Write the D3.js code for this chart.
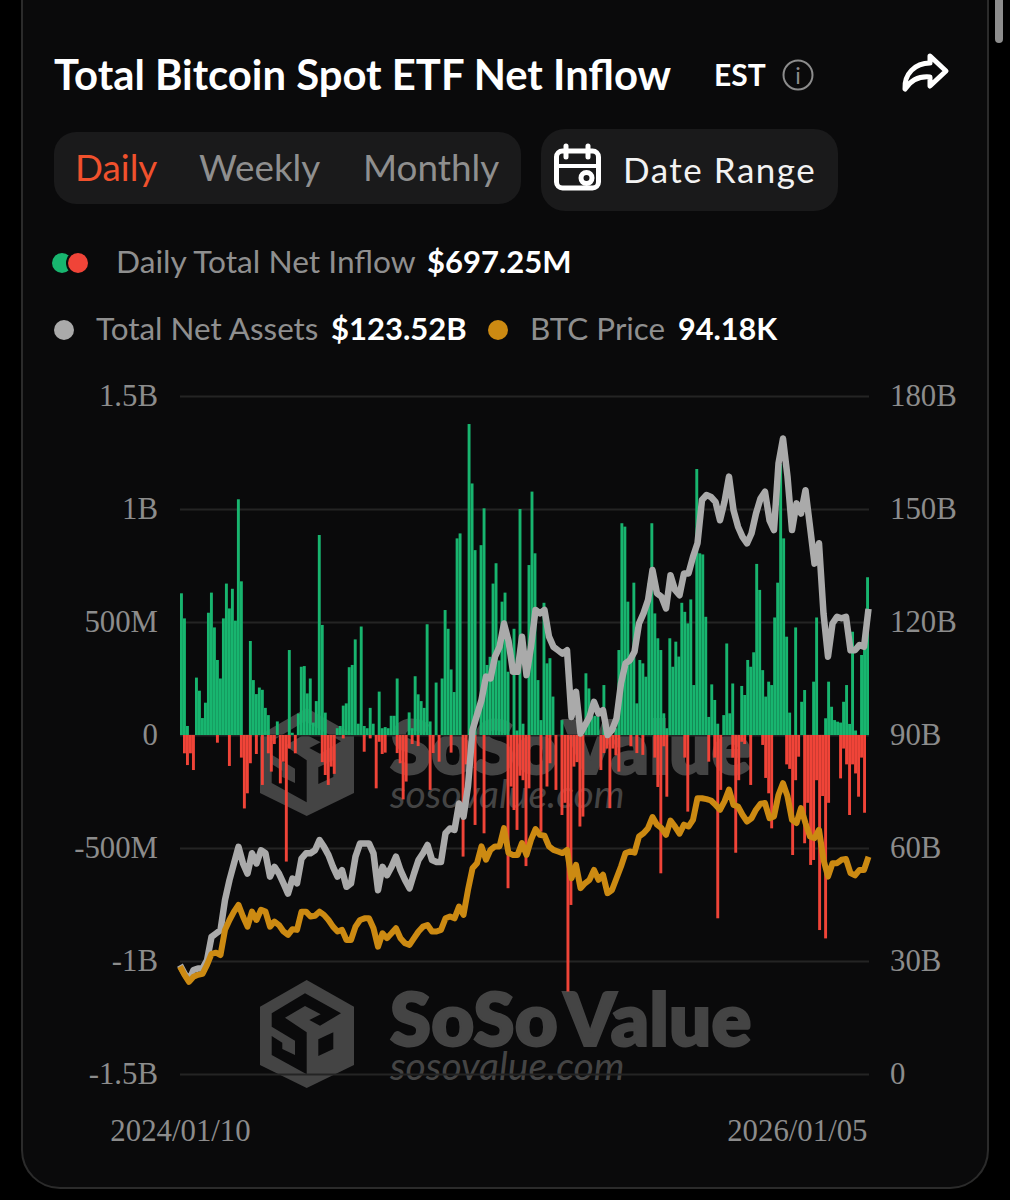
<!DOCTYPE html>
<html>
<head>
<meta charset="utf-8">
<script src="https://cdn.jsdelivr.net/npm/d3@7"></script>
<style>
html, body { margin: 0; padding: 0; background: #000; overflow: hidden; }
svg { display: block; }
text { font-family: Lato, sans-serif; }
.tick text { font-family: "Liberation Serif", serif; font-size: 30.8px; fill: #8c8c8c; }
</style>
</head>
<body>
<div id="chart"></div>
<script>
// flows in $M, one entry per bar slot
let inflow = [
    627,516,40,0,0,254,196,75,143,541,
    630,476,332,250,516,670,560,647,506,1043,
    680,0,0,416,243,181,210,200,120,88,
    0,0,60,0,0,0,376,10,0,95,
    302,305,184,250,55,150,885,487,99,0,
    0,0,30,40,130,140,300,310,423,50,
    480,40,30,120,50,0,192,30,35,30,
    85,85,250,0,0,0,100,30,260,180,
    150,120,490,60,0,232,0,250,553,470,
    290,190,870,892,0,0,1376,1113,818,0,
    840,1003,310,346,670,760,330,590,630,280,
    0,470,20,1000,50,0,752,1077,804,243,
    66,585,317,340,170,0,0,66,0,0,
    0,0,0,0,0,273,206,81,85,81,
    0,221,0,0,0,30,376,937,922,590,
    332,674,140,332,317,258,671,937,538,428,
    376,96,30,428,302,413,347,585,545,494,
    600,221,1177,804,799,523,80,224,155,50,
    0,88,405,96,228,0,0,217,177,332,
    302,366,757,642,287,170,236,221,520,674,
    1200,870,435,99,0,476,0,147,199,0,
    0,236,520,0,0,74,236,125,66,59,
    55,147,221,49,457,20,0,354,390,698
]
let outflow = [
    0,81,133,81,155,0,0,0,0,0,
    0,0,34,0,0,0,137,0,0,0,
    100,325,258,125,0,84,0,221,0,81,
    162,40,0,214,118,560,60,0,81,0,
    0,0,0,0,0,0,0,120,177,221,
    140,172,0,0,15,0,0,0,0,0,
    0,74,0,15,0,236,30,84,78,0,
    0,0,80,125,285,206,0,40,0,49,
    0,0,0,243,80,0,118,0,0,0,
    78,0,0,0,538,130,0,0,398,0,
    0,435,0,0,0,0,0,0,0,678,
    228,332,420,180,200,580,236,0,0,0,
    428,0,228,125,0,243,0,354,300,1135,
    752,140,120,405,361,0,0,0,0,0,
    155,80,60,324,60,90,162,0,0,0,
    50,0,80,0,88,0,0,0,100,230,
    612,50,273,0,0,0,0,0,100,339,
    0,0,0,0,0,0,118,0,100,811,
    243,0,0,0,100,521,200,30,40,0,
    221,0,0,0,44,190,258,413,0,0,
    0,0,130,150,531,200,96,0,479,300,
    575,553,200,863,270,900,300,0,0,0,
    192,60,130,354,130,170,273,100,344,0
]
// total net assets in $B
let netAssets = [
    28.9,26.7,24.9,27.6,28.0,28.0,30.2,36.4,37.3,38.2,
    46.2,51.5,55.9,60.3,55.9,53.2,58.6,55.9,59.4,58.6,
    52.4,55.0,53.2,50.6,47.9,51.9,50.6,57.2,58.6,58.6,
    59.4,62.1,60.3,58.1,55.0,52.4,54.1,49.7,50.6,57.7,
    61.2,61.2,61.2,58.6,48.8,55.0,52.8,55.0,57.7,54.1,
    51.5,49.3,53.2,56.8,58.6,60.8,56.8,56.3,56.3,63.9,
    65.2,64.8,71.8,68.3,76.3,91.3,95.3,99.3,105.5,105.0,
    110.8,113.4,119.6,115.0,106.8,106.8,116.1,105.9,113.4,123.2,
    122.3,123.2,116.1,113.4,112.5,111.6,112.5,94.8,101.5,90.4,
    92.6,94.8,98.8,95.7,96.6,90.0,91.3,94.4,103.7,109.0,
    109.9,112.1,119.6,122.3,125.8,133.8,127.6,126.7,123.6,132.4,
    128.5,127.1,132.9,132.9,137.3,140.9,152.4,153.7,153.2,151.9,
    147.0,151.9,158.6,149.7,145.3,142.6,140.9,143.5,148.8,152.8,
    154.6,147.0,144.4,162.1,168.7,158.6,144.4,151.5,148.8,155.0,
    145.3,135.5,140.9,122.3,110.8,119.6,121.4,121.0,121.4,112.5,
    112.5,113.9,113.4,123.5
]
// BTC price in $K
let btcPrice = [
    46.6,43.0,40.0,42.2,43.0,43.4,47.3,52.1,52.6,51.6,
    62.5,66.8,70.4,73.3,68.3,63.9,70.4,66.8,71.2,70.4,
    63.9,66.1,64.6,61.8,60.3,62.8,62.5,70.4,70.4,68.3,
    68.6,70.4,69.0,66.8,63.9,61.8,62.5,58.1,58.1,63.9,
    66.8,67.5,67.5,63.2,55.2,61.0,58.9,61.0,63.2,58.9,
    56.7,56.0,58.9,61.8,63.9,64.6,61.8,61.8,62.5,67.5,
    68.3,67.5,72.6,69.0,79.8,89.2,91.4,98.7,92.9,97.2,
    98.7,98.7,106.6,95.8,95.0,95.0,100.1,95.0,101.5,106.2,
    103.7,103.3,98.7,97.2,96.5,95.8,97.2,84.9,90.7,80.6,
    82.7,84.2,88.5,84.2,86.4,78.4,79.8,84.9,90.0,95.8,
    96.5,96.0,103.0,104.4,106.6,111.4,108.1,106.6,103.7,109.9,
    107.3,104.2,108.1,107.3,110.2,119.6,119.6,119.2,118.6,116.7,
    114.6,118.2,123.3,116.7,116.0,112.4,109.5,110.9,114.6,117.2,
    117.5,110.9,111.7,121.1,126.1,120.4,110.2,108.8,115.3,108.8,
    103.0,102.3,105.9,92.9,85.6,91.4,91.4,92.9,93.2,87.1,
    86.1,88.5,88.5,94.2
]
let flowTicks = [-1500, -1000, -500, 0, 500, 1000, 1500]
let flowTickLabels = ['-1.5B', '-1B', '-500M', '0', '500M', '1B', '1.5B']
let assetTicks = [0, 30, 60, 90, 120, 150, 180]
let assetTickLabels = ['0', '30B', '60B', '90B', '120B', '150B', '180B']
let dateTicks = [new Date(2024, 0, 10), new Date(2026, 0, 5)]

let width = 1010,
    height = 1200,
    plotLeft = 180,
    plotRight = 869,
    plotTop = 396,
    plotBottom = 1074

let svg = d3.select('#chart').append('svg')
    .attr('width', width)
    .attr('height', height)

// card
svg.append('rect').attr('width', width).attr('height', height).attr('fill', '#000')
svg.append('rect')
    .attr('x', 22).attr('y', -40).attr('width', 966).attr('height', 1228).attr('rx', 38)
    .attr('fill', '#0a0a0b').attr('stroke', '#2b2b2b').attr('stroke-width', 2)
svg.append('rect')
    .attr('x', 995).attr('y', -6).attr('width', 8).attr('height', 49).attr('rx', 4)
    .attr('fill', '#8d8d8d')

// header
svg.append('text').attr('x', 54).attr('y', 90)
    .attr('font-size', 41.8).attr('font-weight', 700).attr('fill', '#fff')
    .text('Total Bitcoin Spot ETF Net Inflow')
svg.append('text').attr('x', 714).attr('y', 86)
    .attr('font-size', 30).attr('font-weight', 700).attr('fill', '#fff')
    .text('EST')
let info = svg.append('g').attr('transform', 'translate(798,75)')
info.append('circle').attr('r', 14.5).attr('fill', 'none').attr('stroke', '#8c8c8c').attr('stroke-width', 2)
info.append('text').attr('text-anchor', 'middle').attr('y', 9).attr('font-size', 23)
    .attr('fill', '#8c8c8c').text('i')
svg.append('path')
    .attr('d', 'M930 56 L946 71 L930 86 L930 77 C919 76 911 80 905 89 C904 74 915 63 930 63 Z')
    .attr('fill', 'none').attr('stroke', '#fff').attr('stroke-width', 5).attr('stroke-linejoin', 'round')

// period switch
svg.append('rect').attr('x', 54).attr('y', 132).attr('width', 467).attr('height', 72).attr('rx', 22).attr('fill', '#1a1a1b')
svg.append('rect').attr('x', 541).attr('y', 129).attr('width', 297).attr('height', 82).attr('rx', 24).attr('fill', '#1a1a1b')
svg.append('text').attr('x', 75).attr('y', 181).attr('font-size', 36.8).attr('fill', '#f0512d').text('Daily')
svg.append('text').attr('x', 199).attr('y', 181).attr('font-size', 36.8).attr('fill', '#8f8f8f').text('Weekly')
svg.append('text').attr('x', 363).attr('y', 181).attr('font-size', 36.8).attr('fill', '#8f8f8f').text('Monthly')
svg.append('text').attr('x', 623).attr('y', 183).attr('font-size', 35).attr('letter-spacing', 1.5).attr('fill', '#f2f2f2').text('Date Range')

// calendar icon
let cal = svg.append('g').attr('fill', 'none').attr('stroke', '#fff')
cal.append('rect').attr('x', 556.5).attr('y', 151).attr('width', 42).attr('height', 37).attr('rx', 6).attr('stroke-width', 5)
cal.append('path').attr('d', 'M556 166 H599').attr('stroke-width', 4)
cal.append('path').attr('d', 'M566 146 V157 M588 146 V157').attr('stroke-width', 5).attr('stroke-linecap', 'round')
cal.append('circle').attr('cx', 586.5).attr('cy', 178).attr('r', 5.5).attr('stroke-width', 5)

// legend
svg.append('circle').attr('cx', 62).attr('cy', 263).attr('r', 10).attr('fill', '#18b56f')
svg.append('circle').attr('cx', 78).attr('cy', 263).attr('r', 12).attr('fill', '#0a0a0b')
svg.append('circle').attr('cx', 78).attr('cy', 263).attr('r', 10).attr('fill', '#f04438')
svg.append('text').attr('x', 116).attr('y', 273).attr('font-size', 31.7).attr('fill', '#8f8f8f').text('Daily Total Net Inflow')
svg.append('text').attr('x', 427).attr('y', 273).attr('font-size', 31).attr('font-weight', 700).attr('fill', '#fff').text('$697.25M')
svg.append('circle').attr('cx', 64).attr('cy', 330).attr('r', 10).attr('fill', '#aaaaaa')
svg.append('text').attr('x', 96).attr('y', 340).attr('font-size', 31.4).attr('fill', '#8f8f8f').text('Total Net Assets')
svg.append('text').attr('x', 331).attr('y', 340).attr('font-size', 31).attr('font-weight', 700).attr('fill', '#fff').text('$123.52B')
svg.append('circle').attr('cx', 498).attr('cy', 330).attr('r', 10).attr('fill', '#cc8a12')
svg.append('text').attr('x', 530).attr('y', 340).attr('font-size', 31.4).attr('fill', '#8f8f8f').text('BTC Price')
svg.append('text').attr('x', 678).attr('y', 340).attr('font-size', 30.6).attr('font-weight', 700).attr('fill', '#fff').text('94.18K')

// watermarks sit under everything in the plot
function watermark(dy) {
    let g = svg.append('g').attr('transform', 'translate(260,' + dy + ')')
    g.append('path').attr('d', 'M46.7 0 L94 26.7 L94 85 L46.7 108 L0 85 L0 26.7 Z').attr('fill', '#444')
    g.append('path')
        .attr('d', 'M45 13.3 L81 33.3 L60 45.7 L49.3 40 L60.7 34.3 L45 26 L25 37.7 L46.7 52.3 L46.7 94.3 L11.7 75 L11.7 56 L22.3 62.7 L22.3 69 L35 75 L35 60.7 L11.7 46.7 L11.7 33.3 Z')
        .attr('fill', '#0a0a0b')
    g.append('path').attr('d', 'M58.3 59.3 L73.3 52.3 L73.3 69 L58.3 76 Z').attr('fill', '#0a0a0b')
    g.append('text').attr('x', 130).attr('y', 66).attr('font-size', 74).attr('font-weight', 800)
        .attr('letter-spacing', 0.3).attr('word-spacing', -9).attr('fill', '#444')
        .attr('stroke', '#444').attr('stroke-width', 2)
        .attr('font-family', 'Inter, sans-serif').text('SoSo Value')
    g.append('text').attr('x', 130).attr('y', 100).attr('font-size', 39).attr('font-style', 'italic')
        .attr('fill', '#444').text('sosovalue.com')
}
watermark(980)
watermark(708)

// scales
let y = d3.scaleLinear().domain([-1500, 1500]).range([plotBottom, plotTop])
let yAssets = d3.scaleLinear().domain([0, 180]).range([plotBottom, plotTop])
let yBtc = d3.scaleLinear().domain([0, 294]).range([plotBottom, plotTop])
let xBar = d3.scaleBand().domain(d3.range(inflow.length)).range([plotLeft, plotRight]).paddingInner(0.03)
let xLine = d3.scaleLinear().domain([0, netAssets.length - 1]).range([plotLeft, plotRight - 0.5])
let xDate = d3.scaleTime().domain(dateTicks).range([plotLeft, plotRight])

// axes
let axisLeft = d3.axisLeft(y)
    .tickValues(flowTicks)
    .tickFormat((d, i) => flowTickLabels[i])
    .tickSize(-(plotRight - plotLeft))
    .tickPadding(22)
svg.append('g').attr('transform', 'translate(' + plotLeft + ',0)').call(axisLeft)
    .call(g => g.select('.domain').remove())
    .call(g => g.selectAll('.tick line').attr('stroke', '#242424').attr('stroke-width', 2))

let axisRight = d3.axisRight(yAssets)
    .tickValues(assetTicks)
    .tickFormat((d, i) => assetTickLabels[i])
    .tickSize(0)
    .tickPadding(21)
svg.append('g').attr('transform', 'translate(' + plotRight + ',0)').call(axisRight)
    .call(g => g.select('.domain').remove())

let axisDate = d3.axisBottom(xDate)
    .tickValues(dateTicks)
    .tickFormat(d3.timeFormat('%Y/%m/%d'))
    .tickSize(0)
    .tickPadding(45)
svg.append('g').attr('transform', 'translate(0,' + plotBottom + ')').call(axisDate)
    .call(g => g.select('.domain').remove())
    .call(g => g.selectAll('.tick text').filter((d, i) => i === 1).attr('text-anchor', 'end').attr('dx', -2))

// bars
svg.append('g').selectAll('rect').data(inflow).join('rect')
    .attr('x', (d, i) => xBar(i))
    .attr('width', xBar.bandwidth())
    .attr('y', d => y(d))
    .attr('height', d => y(0) - y(d))
    .attr('fill', '#18b56f')
svg.append('g').selectAll('rect').data(outflow).join('rect')
    .attr('x', (d, i) => xBar(i))
    .attr('width', xBar.bandwidth())
    .attr('y', y(0))
    .attr('height', d => y(-d) - y(0))
    .attr('fill', '#f04438')

// lines
let assetLine = d3.line().x((d, i) => xLine(i)).y(d => yAssets(d))
let btcLine = d3.line().x((d, i) => xLine(i)).y(d => yBtc(d))
svg.append('path').datum(netAssets)
    .attr('d', assetLine)
    .attr('fill', 'none').attr('stroke', '#aaaaaa').attr('stroke-width', 6.5).attr('stroke-linejoin', 'round')
svg.append('path').datum(btcPrice)
    .attr('d', btcLine)
    .attr('fill', 'none').attr('stroke', '#cc8a12').attr('stroke-width', 6).attr('stroke-linejoin', 'round')
</script>
</body>
</html>
